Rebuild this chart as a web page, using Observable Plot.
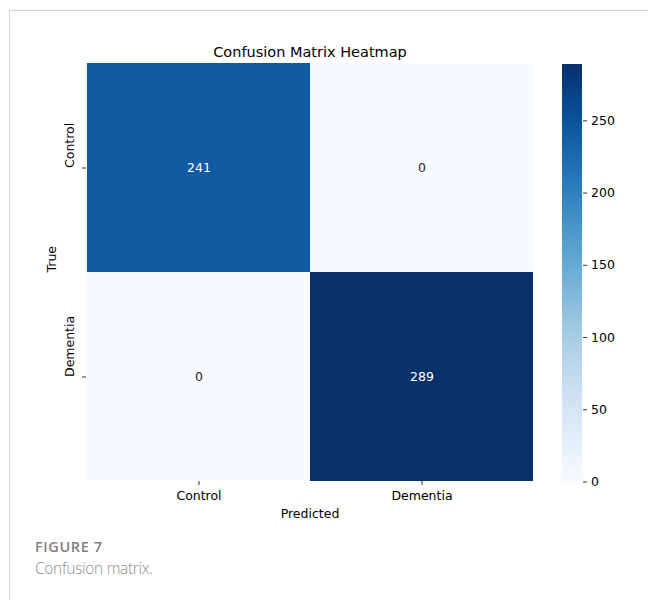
<!DOCTYPE html>
<html>
<head>
<meta charset="utf-8">
<script src="https://cdn.jsdelivr.net/npm/d3@7"></script>
<script src="https://cdn.jsdelivr.net/npm/@observablehq/plot@0.6"></script>
<style>
  html, body { margin: 0; padding: 0; background: #fff; }
  #page { position: relative; width: 648px; height: 600px; overflow: hidden; }
  #frame { position: absolute; left: 9px; top: 10px; width: 700px; height: 700px;
           border-top: 1px solid #d4d4d4; border-left: 1px solid #d4d4d4; }
  #heatmap { position: absolute; left: 0; top: 0; width: 560px; height: 530px; }
  #colorbar { position: absolute; left: 562px; top: 0; width: 100px; height: 530px; }
  #heatmap svg, #colorbar svg { max-width: none !important; }
  .fig-num { position: absolute; left: 35px; top: 539px; font-family: "Open Sans", sans-serif;
             font-size: 14.5px; line-height: 16px; font-weight: 600; letter-spacing: 0.6px;
             color: #7f7f7f; white-space: nowrap; }
  .fig-cap { position: absolute; left: 35px; top: 557px; font-family: "Open Sans", sans-serif;
             font-size: 15.5px; line-height: 22px; font-weight: 300; letter-spacing: -0.3px;
             color: #8c8c8c; white-space: nowrap; }
</style>
</head>
<body>
<div id="page">
  <div id="frame"></div>
  <div id="heatmap"></div>
  <div id="colorbar"></div>
  <div class="fig-num">FIGURE 7</div>
  <div class="fig-cap">Confusion matrix.</div>
</div>
<script>
// Class labels (rows = true class, columns = predicted class)
const classes = ["Control", "Dementia"];
// Counts per true class (row) and predicted class (column)
const controlRow = [241, 0];
const dementiaRow = [0, 289];
// Colour bar tick values and colour scale maximum
const colorTicks = [0, 50, 100, 150, 200, 250];
const colorMax = 289;

const rows = [controlRow, dementiaRow];
const cells = classes.flatMap((t, i) =>
  classes.map((p, j) => ({actual: t, predicted: p, count: rows[i][j]}))
);

const colorScale = {type: "linear", scheme: "blues", domain: [0, colorMax]};
const font = {fontFamily: "DejaVu Sans", fontSize: "12.5px", color: "#000", background: "transparent"};

const heatmap = Plot.plot({
  width: 560,
  height: 530,
  marginLeft: 86,
  marginRight: 27,
  marginTop: 63,
  marginBottom: 49,
  style: font,
  x: {domain: classes, padding: 0, label: null},
  y: {domain: classes, padding: 0, label: null},
  color: colorScale,
  marks: [
    Plot.cell(cells, {x: "predicted", y: "actual", fill: "count", inset: 0}),
    // annotations: light text on dark cells, dark text on light cells
    Plot.text(cells.filter(d => d.count > colorMax / 2), {
      x: "predicted", y: "actual", text: d => String(d.count), fill: "white", fontSize: 12.5
    }),
    Plot.text(cells.filter(d => d.count <= colorMax / 2), {
      x: "predicted", y: "actual", text: d => String(d.count), fill: "#262626", fontSize: 12.5
    }),
    Plot.axisX({tickSize: 4, tickPadding: 5.5, label: null, stroke: "#333"}),
    Plot.axisY({tickSize: 4, tickFormat: () => "", label: null, stroke: "#333"}),
    // rotated row labels
    Plot.text(classes, {y: d => d, frameAnchor: "left", rotate: -90, dx: -16.5, fontSize: 12.5, lineAnchor: "middle"}),
    // axis titles and chart title
    Plot.text(["Predicted"], {frameAnchor: "bottom", dy: 32, fontSize: 12.5, lineAnchor: "middle"}),
    Plot.text(["True"], {frameAnchor: "left", rotate: -90, dx: -34.3, fontSize: 12.5, lineAnchor: "middle"}),
    Plot.text(["Confusion Matrix Heatmap"], {frameAnchor: "top", dy: -11.5, fontSize: 14.5, lineAnchor: "middle"})
  ]
});
document.getElementById("heatmap").appendChild(heatmap);

// Vertical colour bar: thin overlapping bands so no seams show between them
const step = 1;
const bands = d3.range(0, colorMax, step).map(v => ({lo: v, hi: Math.min(v + step * 1.6, colorMax), v: v + step / 2}));

const colorbar = Plot.plot({
  width: 100,
  height: 530,
  marginLeft: 0,
  marginRight: 80,
  marginTop: 64,
  marginBottom: 48.5,
  style: font,
  x: {domain: [0, 1], axis: null},
  y: {domain: [0, colorMax], label: null},
  color: colorScale,
  marks: [
    Plot.rect(bands, {x1: 0, x2: 1, y1: "lo", y2: "hi", fill: "v"}),
    Plot.axisY({anchor: "right", ticks: colorTicks, tickSize: 4, tickPadding: 4.5, label: null, stroke: "#333"})
  ]
});
document.getElementById("colorbar").appendChild(colorbar);
</script>
</body>
</html>
